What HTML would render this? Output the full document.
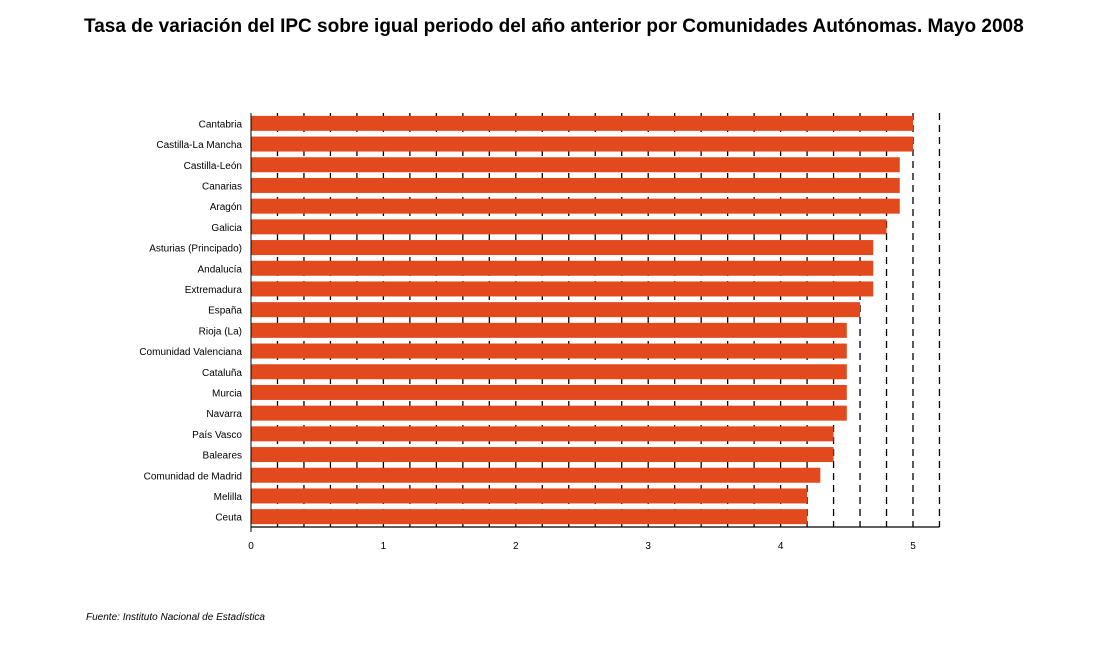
<!DOCTYPE html>
<html><head><meta charset="utf-8"><style>
body{margin:0;background:#fff;width:1105px;height:650px;overflow:hidden;font-family:"Liberation Sans",Arial,sans-serif}
#title{position:absolute;left:84px;top:12px;width:947px;font-weight:bold;font-size:19px;line-height:30px;text-align:justify;text-align-last:left;color:#000}
#src{position:absolute;left:86px;top:612px;font-size:10px;font-style:italic}
svg{position:absolute;left:0;top:0}
</style></head><body>
<div id="title">Tasa de variación del IPC sobre igual periodo del año anterior por Comunidades Autónomas. Mayo 2008</div>
<svg id="chart" width="1105" height="650"></svg>
<div id="src">Fuente: Instituto Nacional de Estadística</div>
<script>
const categories=["Cantabria","Castilla-La Mancha","Castilla-León","Canarias","Aragón","Galicia","Asturias (Principado)","Andalucía","Extremadura","España","Rioja (La)","Comunidad Valenciana","Cataluña","Murcia","Navarra","País Vasco","Baleares","Comunidad de Madrid","Melilla","Ceuta"];
const values=[5.0,5.0,4.9,4.9,4.9,4.8,4.7,4.7,4.7,4.6,4.5,4.5,4.5,4.5,4.5,4.4,4.4,4.3,4.2,4.2];
const tickLabels=[0,1,2,3,4,5];
const NS="http://www.w3.org/2000/svg";
const svg=document.getElementById('chart');
const x0=251,pxPerUnit=132.4,xMax=5.2,yTop=113,yBot=527;
const step=(yBot-yTop)/categories.length;
const xs=v=>x0+v*pxPerUnit;
const yc=i=>yTop+step*(i+0.5);
function mk(t,a){const e=document.createElementNS(NS,t);for(const k in a)e.setAttribute(k,a[k]);svg.appendChild(e);return e;}
for(let k=1;k<=26;k++){const v=k*0.2;const g=mk('line',{x1:xs(v),x2:xs(v),y1:yTop,y2:yBot,stroke:'#000','stroke-width':1.3,'stroke-dasharray':'7,5'});

}
categories.forEach((c,i)=>{
const r=mk('rect',{x:x0,y:yc(i)-7.5,width:xs(values[i])-x0,height:15,fill:'#e24a1e'});


const t=mk('text',{x:242,y:yc(i)+4,'text-anchor':'end','font-size':10,fill:'#000'});t.textContent=c;


});
const ax=mk('line',{x1:x0,x2:xs(xMax),y1:yBot,y2:yBot,stroke:'#000','stroke-width':1.3});


const ay=mk('line',{x1:x0,x2:x0,y1:yTop,y2:yBot+5,stroke:'#000','stroke-width':1});


tickLabels.forEach(v=>{const t=mk('text',{x:xs(v),y:549,'text-anchor':'middle','font-size':10});t.textContent=v;

});
</script>
</body></html>
